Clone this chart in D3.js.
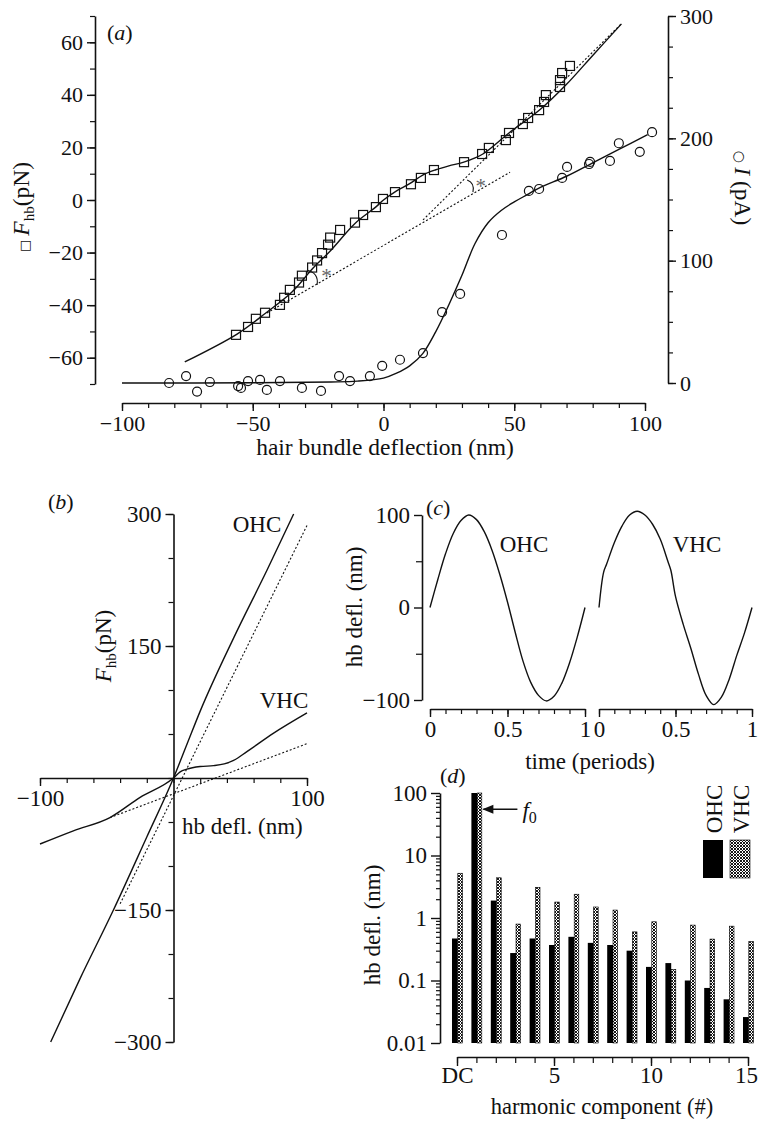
<!DOCTYPE html>
<html>
<head>
<meta charset="utf-8">
<script src="https://cdn.jsdelivr.net/npm/d3@7"></script>
<style>
  body { margin: 0; background: #fff; }
  svg { font-family: "Liberation Serif", "Times New Roman", serif; }
</style>
</head>
<body>
<div id="chart"></div>
<script>
// ---- panel (a): measured force (squares) and current (circles)
var sqX = [-56.4, -51.8, -48.8, -45.3, -39.6, -38, -35.8, -32.3, -31.2, -27.3, -25.4, -23.5, -21.2, -20.4, -16.6, -10.9, -7.8, -2.9, -0.2, 4.4, 10.5, 14.3, 19.3, 30.8, 37.7, 40.3, 46.8, 48, 53.3, 55.3, 59.5, 61.4, 62.1, 67.5, 67.5, 68.3, 71.3];
var sqF = [-51.3, -48.3, -45.2, -42.9, -39.9, -37.2, -34.2, -31.4, -28.8, -25.7, -23, -20.2, -17, -14.3, -11.4, -8.6, -5.7, -2.7, 0.4, 3, 6, 8.4, 11.4, 14.4, 17.5, 19.8, 22.8, 25.5, 28.9, 31.2, 34.2, 37.3, 39.9, 43, 45.6, 48.3, 51];
var ciX = [-82, -75.5, -71.3, -66.4, -55.6, -54.5, -51.8, -47.2, -44.6, -39.6, -31.2, -23.9, -17, -12.8, -5.2, -0.5, 6.3, 15.1, 22.4, 29.3, 45.3, 55.6, 59.5, 68.3, 70.2, 78.6, 79, 86.6, 90, 98, 102.7];
var ciI = [0, 5.7, -7, 0.8, -2.5, -4, 1.6, 2.5, -5.7, 1.6, -4, -6.5, 5.7, 1.6, 5.7, 14, 19, 24.5, 58, 72.8, 121, 157, 158.6, 167.6, 176.6, 179, 180.7, 181.5, 196, 189, 205];
// fitted curves
var fitFX = [-76, -56, -45, -35, -27, -20, -11, -3, 0, 5, 10, 15, 20, 25, 31, 38, 48, 60, 70, 80, 91];
var fitF = [-61.6, -51, -43, -35, -26, -19, -9, -2.7, 0, 3.5, 6.2, 9.5, 11.5, 13, 14.5, 17.5, 25.5, 34.5, 44, 55, 67];
var fitIX = [-100, -50, -20, -10, 0, 5, 10, 15, 20, 25, 30, 35, 40, 45, 50, 55, 60, 70, 80, 90, 101];
var fitI = [0, 0.2, 0.8, 1.5, 4, 8, 14, 24, 42, 64, 88, 114, 131, 141, 148, 154, 160, 169, 180, 191, 203];
// dotted asymptotes (end points)
var lowAsymX = [-44.6, 48.4], lowAsymF = [-43, 10.6];
var highAsymX = [15.1, 90.8], highAsymF = [-7.6, 66.9];

// ---- panel (b): model force-displacement
var bOhcX = [-92, -70, -45, -20, 0, 10, 20, 45, 70, 90];
var bOhcF = [-300, -228, -150, -67, 0, 38, 76, 159, 236, 300];
var bOhcLinX = [-40, 100], bOhcLinF = [-143, 287];
var bVhcX = [-100, -75, -47.6, -25, 0, 5, 10, 20, 30, 38, 45, 55, 75, 100];
var bVhcF = [-75, -60, -45, -22, 0, 7, 10, 13, 14, 16, 20, 30, 51, 74];
var bVhcLinX = [-47.6, 100], bVhcLinF = [-45, 39];

// ---- panel (c): one period of the response
var cOhcT = [0, 0.05, 0.1, 0.15, 0.2, 0.25, 0.3, 0.35, 0.4, 0.45, 0.5, 0.55, 0.6, 0.65, 0.7, 0.75, 0.8, 0.85, 0.9, 0.95, 1];
var cOhcV = [0, 30, 58, 80, 94, 100, 95, 82, 62, 36, 6, -27, -58, -81, -95, -101, -96, -82, -60, -32, 0];
var cVhcT = [0, 0.03, 0.05, 0.1, 0.15, 0.2, 0.25, 0.3, 0.35, 0.4, 0.45, 0.47, 0.5, 0.55, 0.6, 0.65, 0.7, 0.75, 0.8, 0.85, 0.9, 0.95, 1];
var cVhcV = [0, 38, 47, 70, 88, 100, 104, 100, 90, 74, 50, 40, 12, -18, -44, -72, -95, -105, -97, -78, -52, -28, 0];

// ---- panel (d): harmonic amplitudes
var harmonics = [0, 1, 2, 3, 4, 5, 6, 7, 8, 9, 10, 11, 12, 13, 14, 15];
var dOhc = [0.47, 100, 1.9, 0.275, 0.47, 0.37, 0.5, 0.4, 0.37, 0.3, 0.165, 0.19, 0.1, 0.076, 0.05, 0.026];
var dVhc = [5.2, 100, 4.4, 0.8, 3.1, 1.8, 2.4, 1.5, 1.34, 0.6, 0.87, 0.15, 0.77, 0.46, 0.74, 0.42];

var ink = "#111";
var svg = d3.select("#chart").append("svg").attr("width", 758).attr("height", 1121)
  .attr("font-size", 23).attr("fill", ink);

svg.append("defs").append("pattern")
  .attr("id", "hatch").attr("patternUnits", "userSpaceOnUse").attr("width", 3).attr("height", 3)
  .call(function (p) {
    p.append("rect").attr("width", 3).attr("height", 3).attr("fill", "#fff");
    p.append("path").attr("d", "M0,0L3,3M3,0L0,3").attr("stroke", "#000").attr("stroke-width", 0.9);
  });

function drawAxis(g, axisFn, scale, major, minor, fmt, majLen, minLen, pad) {
  g.call(axisFn(scale).tickValues(major).tickSize(majLen).tickSizeOuter(0).tickPadding(pad || 4).tickFormat(fmt));
  g.attr("font-size", null).attr("font-family", null).attr("color", ink);
  g.select(".domain").attr("stroke-width", 1.6);
  g.selectAll(".tick line").attr("stroke-width", 1.4);
  if (minor) {
    var m = g.append("g").call(axisFn(scale).tickValues(minor).tickSize(minLen).tickSizeOuter(0).tickFormat(""));
    m.attr("font-size", null).attr("font-family", null);
    m.select(".domain").remove();
    m.selectAll(".tick line").attr("stroke-width", 1.2);
  }
  return g;
}
function label(g, x, y, rot, parts, anchor) {
  var t = g.append("text").attr("text-anchor", anchor || "middle")
    .attr("transform", "translate(" + x + "," + y + ")" + (rot ? " rotate(" + rot + ")" : ""));
  parts.forEach(function (p) {
    var s = t.append("tspan").text(p.t);
    if (p.i) s.attr("font-style", "italic");
    if (p.s) s.attr("font-size", p.s);
    if (p.dy) s.attr("dy", p.dy);
    if (p.f) s.attr("font-family", p.f);
  });
  return t;
}
function panelTag(g, x, y, letter) {
  label(g, x, y, 0, [{ t: "(" }, { t: letter, i: 1 }, { t: ")" }], "start").attr("font-size", 22);
}
function pairs(xs, ys) { return xs.map(function (d, i) { return [d, ys[i]]; }); }

// ================= panel (a)
var xA = d3.scaleLinear().domain([-100, 100]).range([122, 645]);
var yAF = d3.scaleLinear().domain([-70, 70]).range([384, 16]);
var yAI = d3.scaleLinear().domain([0, 300]).range([383, 16]);
var a = svg.append("g").attr("font-size", 22);

drawAxis(a.append("g").attr("transform", "translate(0,403)"), d3.axisBottom, xA,
  [-100, -50, 0, 50, 100], d3.range(-100, 101, 10), d3.format("d"), 8, 5);
drawAxis(a.append("g").attr("transform", "translate(95,0)"), d3.axisLeft, yAF,
  d3.range(-60, 61, 20), d3.range(-70, 71, 10), d3.format("d"), 8, 5);
drawAxis(a.append("g").attr("transform", "translate(668,0)"), d3.axisRight, yAI,
  [0, 100, 200, 300], d3.range(0, 301, 25), d3.format("d"), 8, 5);

var lineF = d3.line().x(function (d) { return xA(d[0]); }).y(function (d) { return yAF(d[1]); });
var lineI = d3.line().x(function (d) { return xA(d[0]); }).y(function (d) { return yAI(d[1]); });

a.append("path").datum(pairs(lowAsymX, lowAsymF)).attr("d", lineF)
  .attr("fill", "none").attr("stroke", ink).attr("stroke-width", 1.1).attr("stroke-dasharray", "2,2");
a.append("path").datum(pairs(highAsymX, highAsymF)).attr("d", lineF)
  .attr("fill", "none").attr("stroke", ink).attr("stroke-width", 1.1).attr("stroke-dasharray", "2,2");
a.append("path").datum(pairs(fitFX, fitF)).attr("d", lineF.curve(d3.curveCatmullRom))
  .attr("fill", "none").attr("stroke", ink).attr("stroke-width", 1.4);
a.append("path").datum(pairs(fitIX, fitI)).attr("d", lineI.curve(d3.curveCatmullRom))
  .attr("fill", "none").attr("stroke", ink).attr("stroke-width", 1.4);

a.append("g").selectAll("rect").data(pairs(sqX, sqF)).join("rect")
  .attr("x", function (d) { return xA(d[0]) - 4.5; })
  .attr("y", function (d) { return yAF(d[1]) - 4.5; })
  .attr("width", 9).attr("height", 9)
  .attr("fill", "none").attr("stroke", ink).attr("stroke-width", 1.2);
a.append("g").selectAll("circle").data(pairs(ciX, ciI)).join("circle")
  .attr("cx", function (d) { return xA(d[0]); })
  .attr("cy", function (d) { return yAI(d[1]); })
  .attr("r", 4.5)
  .attr("fill", "none").attr("stroke", ink).attr("stroke-width", 1.2);

// angle marks between curve and asymptotes
var marks = [
  { x0: -29.3, f0: -26.6, x1: -25.4, f1: -32.3, sx: -23.8, sf: -31.5 },
  { x0: 32, f0: 7.6, x1: 34.2, f1: 3, sx: 35.2, sf: 2.8 }
];
marks.forEach(function (m) {
  a.append("path")
    .attr("d", "M" + xA(m.x0) + "," + yAF(m.f0) + "Q" + (xA(m.x1) + 2) + "," + (yAF(m.f0) + 3) + " " + xA(m.x1) + "," + yAF(m.f1))
    .attr("fill", "none").attr("stroke", ink).attr("stroke-width", 1.1);
  a.append("text").attr("x", xA(m.sx)).attr("y", yAF(m.sf)).attr("font-size", 21).attr("fill", "#666").text("*");
});

panelTag(a, 107, 40, "a");
label(a, 385, 455, 0, [{ t: "hair bundle deflection (nm)" }]).attr("font-size", 23.5);
label(a, 29, 207, -90, [{ t: "\u25A1 ", s: 13, f: "DejaVu Sans" }, { t: "F", i: 1 }, { t: "hb", s: 15, dy: 5 }, { t: "(pN)", dy: -5 }]).attr("font-size", 23.5);
label(a, 735, 188, 90, [{ t: "\u25CB ", s: 14, f: "DejaVu Sans" }, { t: "I", i: 1 }, { t: " (pA)" }]).attr("font-size", 23.5);

// ================= panel (b)
var xB = d3.scaleLinear().domain([-100, 100]).range([40, 307]);
var yB = d3.scaleLinear().domain([-300, 300]).range([1042, 514]);
var b = svg.append("g");
drawAxis(b.append("g").attr("transform", "translate(0," + yB(0) + ")"), d3.axisBottom, xB,
  [-100, 100], d3.range(-100, 101, 20), d3.format("d"), 8, 5);
drawAxis(b.append("g").attr("transform", "translate(" + xB(0) + ",0)"), d3.axisLeft, yB,
  [-300, -150, 150, 300], d3.range(-300, 301, 50), d3.format("d"), 8, 5);

var lineB = d3.line().x(function (d) { return xB(d[0]); }).y(function (d) { return yB(d[1]); });
[[bOhcLinX, bOhcLinF], [bVhcLinX, bVhcLinF]].forEach(function (s) {
  b.append("path").datum(pairs(s[0], s[1])).attr("d", lineB)
    .attr("fill", "none").attr("stroke", ink).attr("stroke-width", 1.1).attr("stroke-dasharray", "2,2");
});
[[bOhcX, bOhcF], [bVhcX, bVhcF]].forEach(function (s) {
  b.append("path").datum(pairs(s[0], s[1])).attr("d", lineB.curve(d3.curveMonotoneX))
    .attr("fill", "none").attr("stroke", ink).attr("stroke-width", 1.4);
});
label(b, 257, 532, 0, [{ t: "OHC" }]);
label(b, 284, 708, 0, [{ t: "VHC" }]);
label(b, 182, 834, 0, [{ t: "hb defl. (nm)" }], "start");
label(b, 111, 646, -90, [{ t: "F", i: 1 }, { t: "hb", s: 15, dy: 5 }, { t: "(pN)", dy: -5 }]);
panelTag(b, 48, 509, "b");

// ================= panel (c)
var yC = d3.scaleLinear().domain([-100, 100]).range([700, 515]);
var xC1 = d3.scaleLinear().domain([0, 1]).range([430, 585]);
var xC2 = d3.scaleLinear().domain([0, 1]).range([599, 752]);
var c = svg.append("g");
drawAxis(c.append("g").attr("transform", "translate(422,0)"), d3.axisLeft, yC,
  [-100, 0, 100], [-50, 50], d3.format("d"), 8, 6);
[xC1, xC2].forEach(function (sc) {
  drawAxis(c.append("g").attr("transform", "translate(0,709)"), d3.axisBottom, sc,
    [0, 0.5, 1], d3.range(0, 1.01, 0.1), d3.format("~g"), 8, 5);
});
var lineC1 = d3.line().curve(d3.curveCatmullRom).x(function (d) { return xC1(d[0]); }).y(function (d) { return yC(d[1]); });
var lineC2 = d3.line().curve(d3.curveCatmullRom).x(function (d) { return xC2(d[0]); }).y(function (d) { return yC(d[1]); });
c.append("path").datum(pairs(cOhcT, cOhcV)).attr("d", lineC1).attr("fill", "none").attr("stroke", ink).attr("stroke-width", 1.4);
c.append("path").datum(pairs(cVhcT, cVhcV)).attr("d", lineC2).attr("fill", "none").attr("stroke", ink).attr("stroke-width", 1.4);
label(c, 524, 552, 0, [{ t: "OHC" }]);
label(c, 697, 552, 0, [{ t: "VHC" }]);
label(c, 590, 769, 0, [{ t: "time (periods)" }]);
label(c, 362, 607, -90, [{ t: "hb defl. (nm)" }]);
panelTag(c, 426, 515, "c");

// ================= panel (d)
var yD = d3.scaleLog().domain([0.01, 100]).range([1043, 793]);
var xD = d3.scaleLinear().domain([0, 15]).range([457, 748]);
var d = svg.append("g");
var minorLog = [];
[0.01, 0.1, 1, 10].forEach(function (dec) { for (var k = 2; k <= 9; k++) minorLog.push(dec * k); });
drawAxis(d.append("g").attr("transform", "translate(440,0)"), d3.axisLeft, yD,
  [0.01, 0.1, 1, 10, 100], minorLog, function (v) { return String(v); }, 9, 4);
var dxAxis = drawAxis(d.append("g").attr("transform", "translate(0,1057)").attr("font-size", 22), d3.axisBottom, xD,
  [0, 5, 10, 15], harmonics, function (v) { return v === 0 ? "DC" : v; }, 9, 6, 1);
dxAxis.selectAll(".tick text").filter(function (v) { return v === 15; }).attr("dx", -2);

d.append("g").selectAll("rect").data(harmonics).join("rect")
  .attr("x", function (h) { return xD(h) - 5; })
  .attr("y", function (h, i) { return yD(dOhc[i]); })
  .attr("width", 5.8)
  .attr("height", function (h, i) { return yD(0.01) - yD(dOhc[i]); })
  .attr("fill", "#000");
d.append("g").selectAll("rect").data(harmonics).join("rect")
  .attr("x", function (h) { return xD(h) + 0.8; })
  .attr("y", function (h, i) { return yD(dVhc[i]); })
  .attr("width", 4.6)
  .attr("height", function (h, i) { return yD(0.01) - yD(dVhc[i]); })
  .attr("fill", "url(#hatch)").attr("stroke", "#000").attr("stroke-width", 0.6);

// f0 arrow
var arrowY = yD(55);
d.append("path").attr("d", "M" + (xD(1) + 7) + "," + arrowY + "h34").attr("stroke", ink).attr("stroke-width", 1.4);
d.append("path").attr("d", "M" + (xD(1) + 6) + "," + arrowY + "l11,-4.5v9z").attr("fill", ink);
label(d, xD(1) + 46, arrowY + 9, 0, [{ t: "f", i: 1 }, { t: "0", s: 16, dy: 5 }], "start");

// legend
d.append("rect").attr("x", 703).attr("y", 840).attr("width", 20).attr("height", 38).attr("fill", "#000");
d.append("rect").attr("x", 730).attr("y", 840).attr("width", 20).attr("height", 38)
  .attr("fill", "url(#hatch)").attr("stroke", "#000").attr("stroke-width", 0.6);
label(d, 722, 809, -90, [{ t: "OHC" }]);
label(d, 749, 809, -90, [{ t: "VHC" }]);

label(d, 602, 1114, 0, [{ t: "harmonic component (#)" }]).attr("font-size", 22.5);
label(d, 380, 925, -90, [{ t: "hb defl. (nm)" }]);
panelTag(d, 440, 783, "d");
</script>
</body>
</html>
